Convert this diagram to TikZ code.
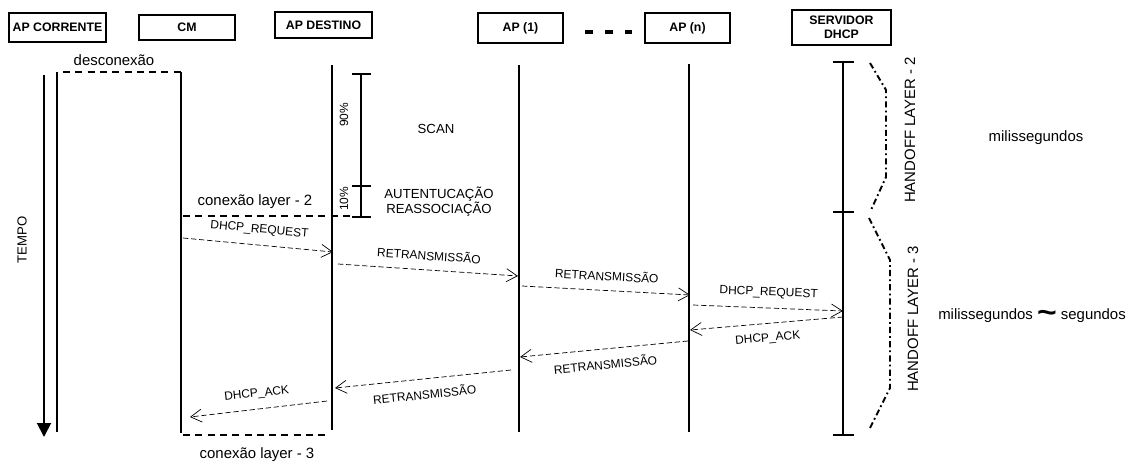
\documentclass[tikz,border=0pt]{standalone}
\usepackage{fontspec}
\setmainfont{Liberation Sans}
\usepackage{amsmath}
\usetikzlibrary{arrows.meta,calc}

\tikzset{
  caixa/.style={draw, line width=1.1pt, font=\fontsize{7}{8}\selectfont\bfseries, inner sep=1pt, align=center},
  vida/.style={line width=0.9pt},
  msg/.style={thin, dash pattern=on 3pt off 1.6pt, -{Straight Barb[length=2.2mm,width=2.6mm]}},
  rotulo/.style={font=\fontsize{6.8}{8}\selectfont, sloped, midway},
  conexao/.style={line width=1.2pt, dash pattern=on 4pt off 3pt},
  chave/.style={line width=1.1pt, dash pattern=on 3.5pt off 1.8pt on 1pt off 1.8pt},
  texto/.style={font=\fontsize{8.5}{10}\selectfont},
  nota/.style={font=\fontsize{7.5}{8.5}\selectfont, align=center}
}
\newcommand{\tilgrosso}{\raisebox{-0.35ex}{\scalebox{1.6}[1.4]{\fontsize{12}{12}\selectfont\bfseries\textasciitilde}}}

\begin{document}
\begin{tikzpicture}[x=0.2mm,y=-0.2mm]
\useasboundingbox (0,0) rectangle (1132,461);
% caixas
\node[caixa, minimum width=19.4mm, minimum height=5.8mm] (corrente) at (57.5,27.5) {AP CORRENTE};
\node[caixa, minimum width=19.2mm, minimum height=5mm] (cm) at (187,27.5) {CM};
\node[caixa, minimum width=19.4mm, minimum height=5.2mm] (destino) at (323.5,25) {AP DESTINO};
\node[caixa, minimum width=17mm, minimum height=6mm] (ap1) at (520.5,28) {AP (1)};
\node[caixa, minimum width=17mm, minimum height=6mm] (apn) at (687.5,28) {AP (n)};
\node[caixa, minimum width=19.8mm, minimum height=7mm] (dhcp) at (841.5,27.5) {SERVIDOR\\DHCP};
\draw[line width=1.8pt, dash pattern=on 4.5pt off 7pt] (585,32) -- (632,32);

% linhas de vida
\coordinate (lcorr) at (57,0);
\coordinate (lcm) at (181,0);
\coordinate (ldest) at (332,0);
\coordinate (lap1) at (519,0);
\coordinate (lapn) at (689,0);
\coordinate (ldhcp) at (843,0);
\draw[vida] ($(lcorr)+(0,72)$) -- ($(lcorr)+(0,432)$);
\draw[vida] ($(lcm)+(0,72)$) -- ($(lcm)+(0,433)$);
\draw[vida] ($(ldest)+(0,65)$) -- ($(ldest)+(0,430)$);
\draw[vida] ($(lap1)+(0,65)$) -- ($(lap1)+(0,432)$);
\draw[vida] ($(lapn)+(0,64)$) -- ($(lapn)+(0,432)$);
\draw[vida] ($(ldhcp)+(0,62)$) -- ($(ldhcp)+(0,435)$);
\foreach \y in {62,212,435} \draw[vida] ($(ldhcp)+(-10,\y)$) -- ($(ldhcp)+(11,\y)$);

% tempo
\coordinate (tempoT) at (44,75);
\coordinate (tempoB) at (44,437);
\draw[line width=1.1pt, -{Triangle[length=2.8mm,width=2.8mm]}] (tempoT) -- (tempoB);
\node[nota, rotate=90] (tempo) at (22,240) {TEMPO};

% conexoes
\draw[conexao] ($(lcorr)+(6,72)$) -- ($(lcm)+(0,72)$);
\node[texto] (descon) at (114,60) {desconexão};
\draw[conexao] ($(lcm)+(2,216)$) -- ($(ldest)+(18,216)$);
\node[texto] (con2) at (255,202) {conexão layer - 2};
\draw[conexao] ($(lcm)+(2,435)$) -- ($(ldest)+(-2,435)$);
\node[texto] (con3) at (257,455) {conexão layer - 3};

% scan / autenticacao
\draw[vida] (361,74) -- (361,217);
\foreach \y in {74,186,217} \draw[vida] (352,\y) -- (371,\y);
\node[font=\fontsize{6.8}{7}\selectfont, rotate=90] (p90) at (344,115) {90\%};
\node[font=\fontsize{6.8}{7}\selectfont, rotate=90] (p10) at (344,199) {10\%};
\node[nota] (scan) at (436,129) {SCAN};
\node[nota] (aut) at (439,202) {AUTENTUCAÇÃO\\REASSOCIAÇÃO};

% mensagens
\foreach \ini/\dxa/\ya/\fim/\dxb/\yb/\txt/\lado in {
  lcm/2/238/ldest/1/252/DHCP\_REQUEST/above,
  ldest/6/264/lap1/-1/276/RETRANSMISSÃO/above,
  lap1/3/286/lapn/1/295/RETRANSMISSÃO/above,
  lapn/4/305/ldhcp/0/311/DHCP\_REQUEST/above,
  ldhcp/0/317/lapn/1/330/DHCP\_ACK/below,
  lapn/-1/341/lap1/1/357/RETRANSMISSÃO/below,
  lap1/-8/370/ldest/3/388/RETRANSMISSÃO/below,
  ldest/-5/401/lcm/9/417/DHCP\_ACK/above}
  \draw[msg] ($(\ini)+(\dxa,\ya)$) -- ($(\fim)+(\dxb,\yb)$) node[rotulo, \lado=2pt] {\txt};

% handoff
\draw[chave] (870,63) -- (886,90) -- (886,177) -- (871,210);
\draw[chave] (869,218) -- (890,260) -- (890,388) -- (869,430);
\node[texto, rotate=90] (hl2) at (910,130) {HANDOFF LAYER - 2};
\node[texto, rotate=90] (hl3) at (913,319) {HANDOFF LAYER - 3};
\node[texto] (ms) at (1036,138) {milissegundos};
\node[texto] (mss) at (1032,316) {milissegundos \tilgrosso{} segundos};
\end{tikzpicture}
\end{document}
